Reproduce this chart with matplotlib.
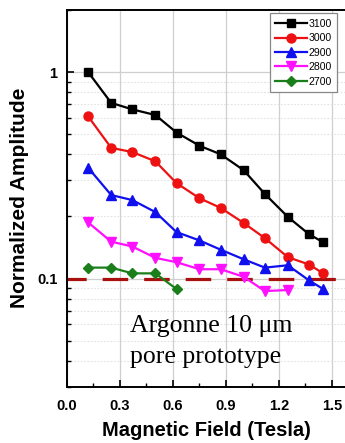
import matplotlib
matplotlib.use("Agg")
import matplotlib.pyplot as plt
from matplotlib.ticker import LogLocator, NullFormatter, FixedLocator, FixedFormatter

# Magnetic field values (Tesla) at which the amplitude was measured
field = [0.12, 0.25, 0.37, 0.50, 0.62, 0.75, 0.87, 1.00, 1.12, 1.25, 1.37, 1.45]

# Normalized amplitude for each high-voltage setting
amp_3100 = [1.00, 0.71, 0.66, 0.62, 0.51, 0.44, 0.40, 0.335, 0.257, 0.199, 0.164, 0.150]
amp_3000 = [0.61, 0.43, 0.41, 0.37, 0.29, 0.245, 0.22, 0.186, 0.157, 0.127, 0.117, 0.106]
amp_2900 = [0.344, 0.254, 0.240, 0.210, 0.168, 0.153, 0.138, 0.124, 0.113, 0.116, 0.098, 0.089]
amp_2800 = [0.187, 0.151, 0.143, 0.126, 0.120, 0.111, 0.111, 0.102, 0.087, 0.088]
amp_2700 = [0.113, 0.113, 0.106, 0.106, 0.089]

labels = ["3100", "3000", "2900", "2800", "2700"]
threshold = 0.1

xticks = [0.0, 0.3, 0.6, 0.9, 1.2, 1.5]
xtick_labels = ["0.0", "0.3", "0.6", "0.9", "1.2", "1.5"]
yticks = [0.1, 1]
ytick_labels = ["0.1", "1"]

series = [
    (amp_3100, "#000000", "s", 6.0),
    (amp_3000, "#ee1111", "o", 6.5),
    (amp_2900, "#1010ee", "^", 6.5),
    (amp_2800, "#ff10ff", "v", 6.5),
    (amp_2700, "#1a7f1a", "D", 5.0),
]

plt.rcParams["font.family"] = ["Liberation Sans", "DejaVu Sans"]

fig = plt.figure(figsize=(3.45, 4.43), dpi=100)
ax = fig.add_axes([0.1942, 0.1275, 0.8058, 0.8499])

# grid first so it sits under the data
ax.set_yscale("log")
ax.set_xlim(0.0, 1.5736)
ax.set_ylim(0.03, 2.0)
ax.set_axisbelow(True)
ax.grid(True, which="major", axis="both", color="#cfcfcf", linewidth=0.9, linestyle="-")
ax.grid(True, which="minor", axis="y", color="#e2e2e2", linewidth=0.8, linestyle=(0, (1.5, 1.5)))

for (vals, color, marker, ms), lab in zip(series, labels):
    ax.plot(field[:len(vals)], vals, color=color, marker=marker, markersize=ms,
            linewidth=1.6, label=lab, zorder=3)

ax.axhline(threshold, color="#a81010", linewidth=2.3, linestyle=(2, (8, 5)), zorder=2)

# ticks
ax.xaxis.set_major_locator(FixedLocator(xticks))
ax.xaxis.set_major_formatter(FixedFormatter(xtick_labels))
ax.xaxis.set_minor_locator(FixedLocator([0.15, 0.45, 0.75, 1.05, 1.35]))
ax.yaxis.set_major_locator(FixedLocator(yticks))
ax.yaxis.set_major_formatter(FixedFormatter(ytick_labels))
ax.yaxis.set_minor_locator(LogLocator(base=10, subs=range(2, 10)))
ax.yaxis.set_minor_formatter(NullFormatter())

ax.tick_params(which="major", direction="in", length=5, width=1.2, pad=7,
               labelsize=10.5)
ax.tick_params(axis="x", which="major", pad=9)
ax.tick_params(which="minor", direction="in", length=3, width=1.0)
for lbl in ax.get_xticklabels() + ax.get_yticklabels():
    lbl.set_fontweight("bold")

for side in ("left", "bottom", "top"):
    ax.spines[side].set_linewidth(1.4)
ax.spines["right"].set_visible(False)

ax.set_xlabel("Magnetic Field (Tesla)", fontsize=14.5, fontweight="bold", labelpad=6)
ax.set_ylabel("Normalized Amplitude", fontsize=15, fontweight="bold", labelpad=6)

leg = ax.legend(loc="upper right", bbox_to_anchor=(0.972, 0.992), fontsize=7.6,
                handlelength=3.0, handletextpad=0.1, labelspacing=0.42,
                borderpad=0.55, borderaxespad=0.0, fancybox=False, framealpha=1.0,
                edgecolor="#888888")
leg.get_frame().set_linewidth(0.9)

serif = ["Liberation Serif", "DejaVu Serif"]
ax.text(0.357, 0.1448, "Argonne 10 \u03bcm", transform=ax.get_xaxis_transform(),
        fontsize=18.5, family=serif, va="baseline", ha="left", zorder=4)
ax.text(0.357, 0.0624, "pore prototype", transform=ax.get_xaxis_transform(),
        fontsize=18.5, family=serif, va="baseline", ha="left", zorder=4)

fig.savefig("out.png", dpi=100)
